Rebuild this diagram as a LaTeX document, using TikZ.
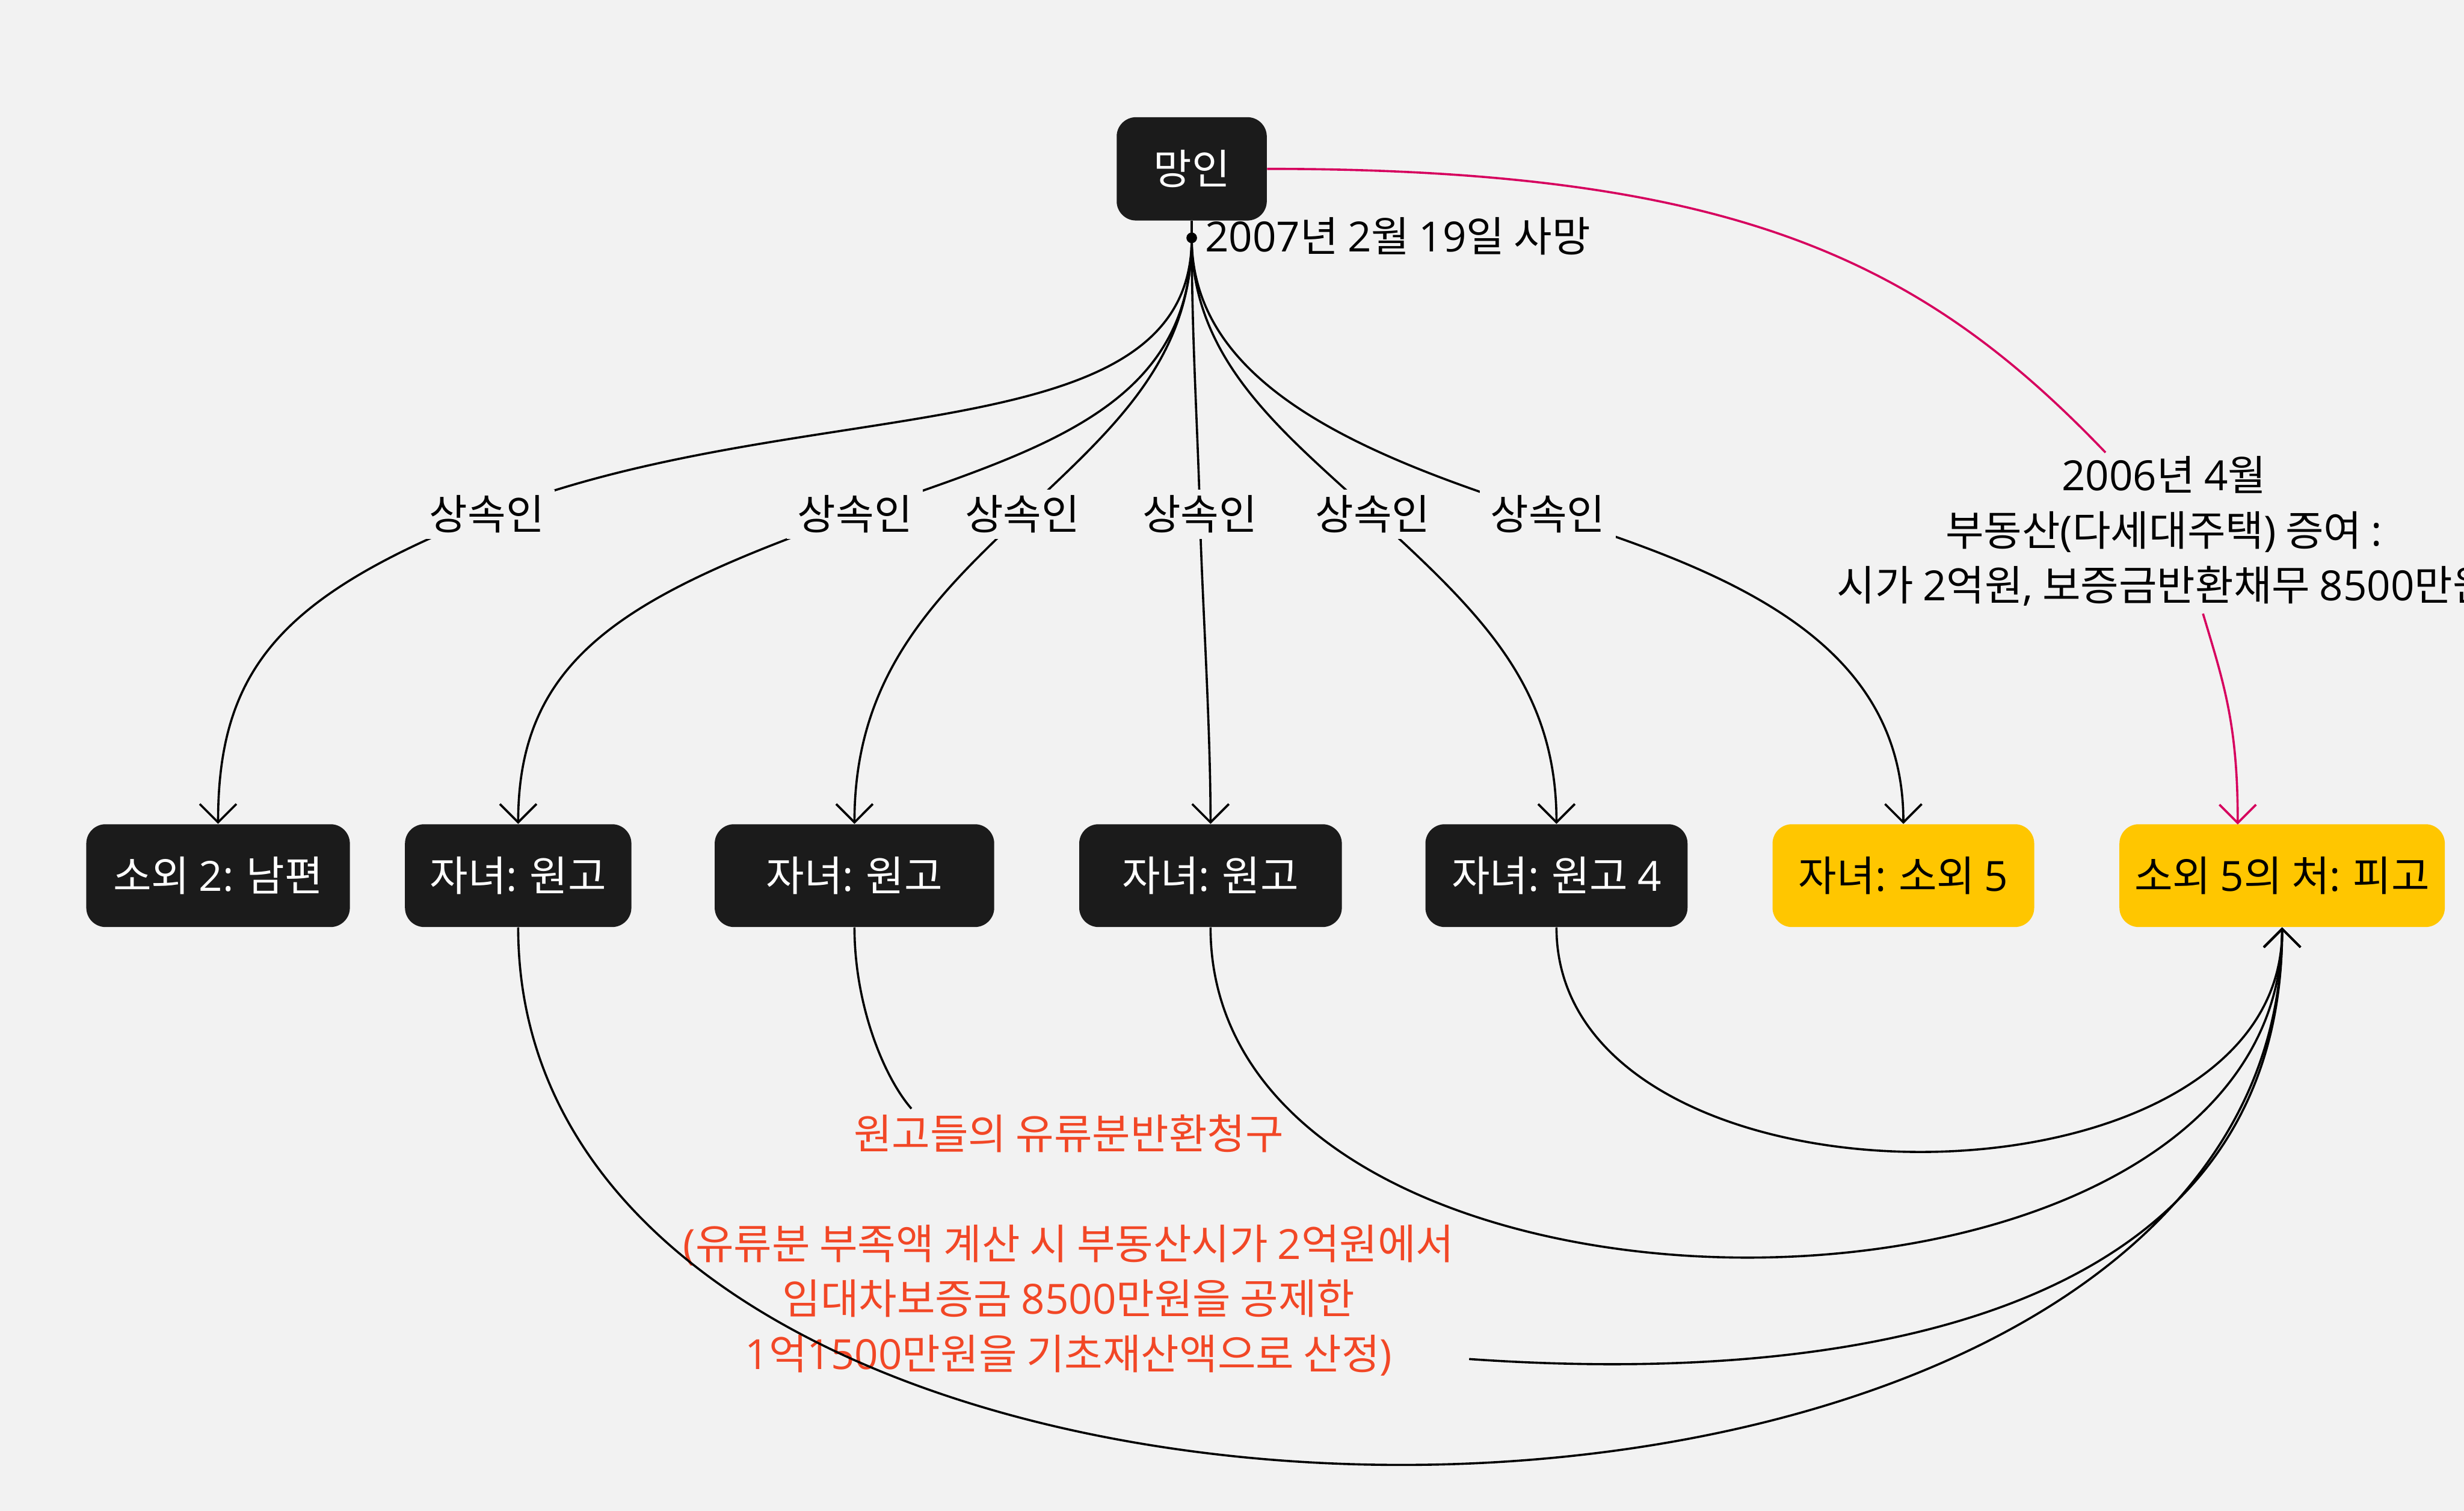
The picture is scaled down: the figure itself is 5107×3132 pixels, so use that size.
\documentclass[tikz,border=0pt]{standalone}
\usepackage{fontspec}
\setmainfont{Noto Sans CJK KR}
\newfontfamily\latfont{Open Sans}
\newcommand\ltn[1]{{\latfont #1}}
\usetikzlibrary{arrows.meta}
\definecolor{bgc}{HTML}{F2F2F2}
\definecolor{nodedark}{HTML}{1B1B1B}
\definecolor{nodeyel}{HTML}{FFC600}
\definecolor{magline}{HTML}{D6005E}
\definecolor{redtxt}{HTML}{F24726}
\newcommand\lblfont{\fontsize{24.5pt}{32.4pt}\selectfont}
\begin{document}
\begin{tikzpicture}[x=0.01cm,y=-0.01cm,
  nbox/.style={rounded corners=0.4cm, minimum height=2.13cm, inner sep=0pt, font=\lblfont},
  darknode/.style={nbox, fill=nodedark, text=white},
  yelnode/.style={nbox, fill=nodeyel, text=black},
  edge/.style={line width=0.045cm, draw=black},
  magedge/.style={line width=0.045cm, draw=magline},
  arr/.style={-{Straight Barb[length=0.38cm,width=0.76cm]}},
  lab/.style={fill=bgc, font=\lblfont, inner xsep=0.22cm, inner ysep=0.12cm},
  plainlab/.style={font=\lblfont, inner sep=0pt, align=center}
]
\fill[bgc] (0,0) rectangle (5107,3132);
\useasboundingbox (0,0) rectangle (5107,3132);

% nodes
\node[darknode, minimum width=3.11cm, minimum height=2.14cm] (m) at (2470,350) {망인};
\node[darknode, minimum width=5.46cm] (b1) at (452,1815) {소외 \ltn{2:} 남편};
\node[darknode, minimum width=4.69cm] (b2) at (1074,1815) {자녀\ltn{:} 원고};
\node[darknode, minimum width=5.79cm] (b3) at (1771,1815) {자녀\ltn{:} 원고};
\node[darknode, minimum width=5.44cm] (b4) at (2509,1815) {자녀\ltn{:} 원고};
\node[darknode, minimum width=5.43cm] (b5) at (3226,1815) {자녀\ltn{:} 원고 \ltn{4}};
\node[yelnode, minimum width=5.42cm] (b6) at (3945,1815) {자녀\ltn{:} 소외 \ltn{5}};
\node[yelnode, minimum width=6.74cm] (b7) at (4730,1815) {소외 \ltn{5}의 처\ltn{:} 피고};

\node[circle, fill=black, inner sep=0pt, minimum size=0.22cm] (dot) at (2470,493) {};
\node[font=\lblfont, anchor=base west, inner sep=0pt] (death) at (2497,522) {\ltn{2007}년 \ltn{2}월 \ltn{19}일 사망};

\draw[edge] (m.south) -- (dot.center);

% label positions
\coordinate (l1) at (1009,1066);
\coordinate (l2) at (1772,1066);
\coordinate (l3) at (2119,1066);
\coordinate (l4) at (2487,1066);
\coordinate (l5) at (2845,1066);
\coordinate (l6) at (3208,1066);

% heir edges
\draw[edge, arr] (dot.center) .. controls (2470,950) and (1659,806) .. (l1)
  .. controls (591,1233) and (452,1380) .. (b1.north);
\draw[edge, arr] (dot.center) .. controls (2470,850) and (2149,933) .. (l2)
  .. controls (1301,1233) and (1074,1360) .. (b2.north);
\draw[edge, arr] (dot.center) .. controls (2470,750) and (2300,894) .. (l3)
  .. controls (1938,1238) and (1771,1400) .. (b3.north);
\draw[edge, arr] (dot.center) .. controls (2470,700) and (2483,900) .. (l4)
  .. controls (2491,1230) and (2509,1500) .. (b4.north);
\draw[edge, arr] (dot.center) .. controls (2470,750) and (2661,896) .. (l5)
  .. controls (3066,1269) and (3226,1420) .. (b5.north);
\draw[edge, arr] (dot.center) .. controls (2470,800) and (2827,945) .. (l6)
  .. controls (3589,1187) and (3945,1330) .. (b6.north);

\node[lab] (t1) at (l1) {상속인};
\node[lab] (t2) at (l2) {상속인};
\node[lab] (t3) at (l3) {상속인};
\node[lab] (t4) at (l4) {상속인};
\node[lab] (t5) at (l5) {상속인};
\node[lab] (t6) at (l6) {상속인};

% magenta gift edge
\coordinate (mg1) at (4364,938);
\coordinate (mg2) at (4566,1272);
\coordinate (mt) at (4638,1709);
\draw[magedge] (m.east) .. controls (3600,350) and (3985,542) .. (mg1);
\draw[magedge, arr] (mg2) .. controls (4609,1416) and (4638,1500) .. (mt);
\node[plainlab] (gift) at (4485,1101) {\ltn{2006}년 \ltn{4}월\\부동산\ltn{(}다세대주택\ltn{)} 증여 \ltn{:}\\시가 \ltn{2}억원\ltn{,} 보증금반환채무 \ltn{8500}만원};

% claim edges
\coordinate (c1) at (1889,2298);
\coordinate (c2) at (3045,2817);
\draw[edge] (b3.south) .. controls (1771,2080) and (1830,2230) .. (c1);
\draw[edge, arr] (c2) .. controls (3800,2870) and (4730,2750) .. (b7.south);
\node[plainlab, text=redtxt] (claim) at (2215,2581) {원고들의 유류분반환청구\\\mbox{}\\\ltn{(}유류분 부족액 계산 시 부동산시가 \ltn{2}억원에서\\임대차보증금 \ltn{8500}만원을 공제한\\\ltn{1}억\ltn{1500}만원을 기초재산액으로 산정\ltn{)}};

\draw[edge, arr] (b5.south) .. controls (3226,2542) and (4730,2542) .. (b7.south);
\draw[edge, arr] (b4.south) .. controls (2509,2834) and (4730,2834) .. (b7.south);
\draw[edge, arr] (b2.south) .. controls (1074,3407) and (4730,3407) .. (b7.south);
\end{tikzpicture}
\end{document}
